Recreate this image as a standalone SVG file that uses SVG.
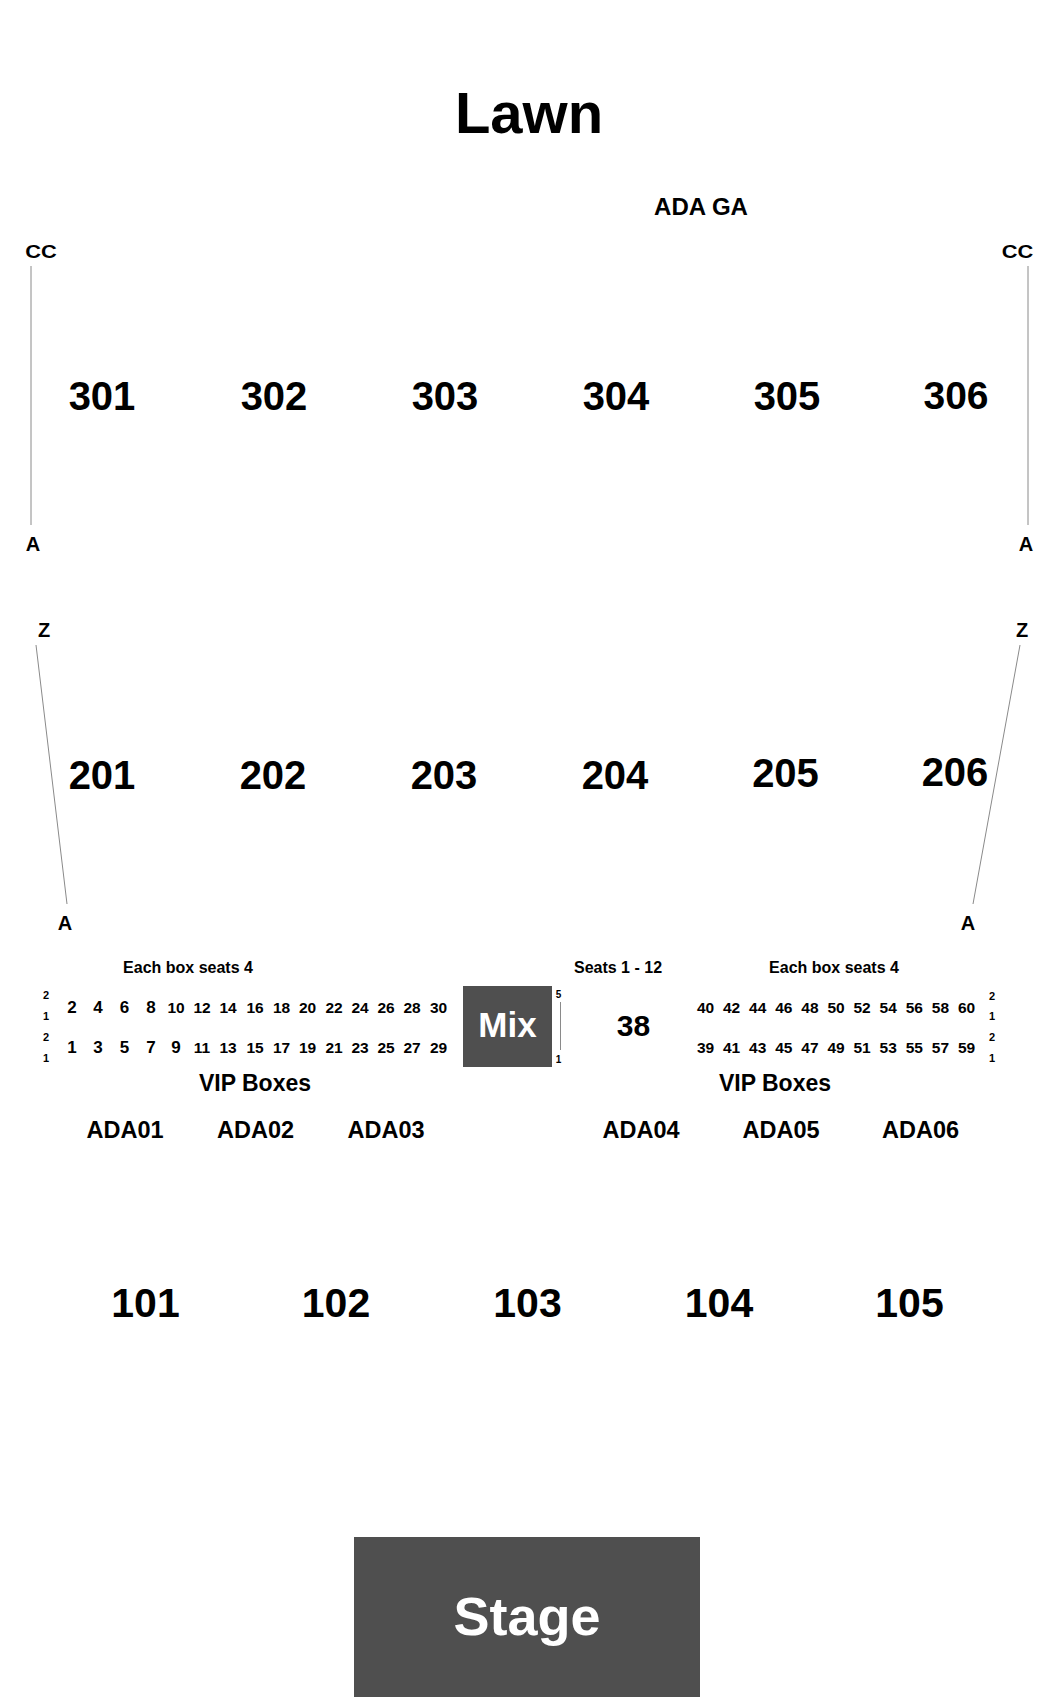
<svg xmlns="http://www.w3.org/2000/svg" width="1050" height="1700" viewBox="0 0 1050 1700">
<style>
text{font-family:"Liberation Sans",Arial,sans-serif;font-weight:bold;fill:#000;text-anchor:middle}
.sec{font-size:40px}
.sec1{font-size:41px}
.row{font-size:20px}
.cc{font-size:19px}
.ada{font-size:23.5px}
.note{font-size:16px}
.box{font-size:15.5px}
.boxs{font-size:17px}
.tiny{font-size:11px}
.vip{font-size:23px}
.wt{fill:#fff}
.blk{fill:#4f4f4f}
.ln{stroke:#8a8a8a;stroke-width:1;fill:none}
</style>
<rect width="1050" height="1700" fill="#fff"/>
<g id="connectors">
<line class="ln" x1="31" y1="266" x2="31" y2="525"/>
<line class="ln" x1="1028" y1="266" x2="1028" y2="525"/>
<line class="ln" x1="36" y1="645" x2="67" y2="904"/>
<line class="ln" x1="1020" y1="645" x2="973" y2="904"/>
<line class="ln" x1="560.5" y1="1002" x2="560.5" y2="1050"/>
</g>
<g id="lawn"><text x="529" y="133" style="font-size:58px">Lawn</text></g>
<g id="ada-ga"><text x="701" y="215" style="font-size:24px">ADA GA</text></g>
<g id="row-labels" class="row">
<g transform="translate(41 258) scale(1.15 1)"><text class="cc" x="0" y="0">CC</text></g>
<g transform="translate(1017.5 258) scale(1.15 1)"><text class="cc" x="0" y="0">CC</text></g>
<text x="33" y="551">A</text>
<text x="1026" y="551">A</text>
<text x="44" y="637">Z</text>
<text x="1022" y="637">Z</text>
<text x="65" y="930">A</text>
<text x="968" y="930">A</text>
</g>
<g id="sec-301"><text class="sec" x="102" y="410">301</text></g>
<g id="sec-302"><text class="sec" x="274" y="410">302</text></g>
<g id="sec-303"><text class="sec" x="445" y="410">303</text></g>
<g id="sec-304"><text class="sec" x="616" y="410">304</text></g>
<g id="sec-305"><text class="sec" x="787" y="410">305</text></g>
<g id="sec-306"><text class="sec" x="956" y="409" style="font-size:39px">306</text></g>
<g id="sec-201"><text class="sec" x="102" y="789">201</text></g>
<g id="sec-202"><text class="sec" x="273" y="789">202</text></g>
<g id="sec-203"><text class="sec" x="444" y="789">203</text></g>
<g id="sec-204"><text class="sec" x="615" y="789">204</text></g>
<g id="sec-205"><text class="sec" x="785.5" y="787">205</text></g>
<g id="sec-206"><text class="sec" x="955" y="786">206</text></g>
<g id="vip-left">
<text class="note" x="188" y="973">Each box seats 4</text>
<g class="tiny"><text x="46" y="999">2</text><text x="46" y="1020">1</text><text x="46" y="1041">2</text><text x="46" y="1062">1</text></g>
<g class="boxs"><text x="72" y="1013">2</text><text x="98" y="1013">4</text><text x="124.5" y="1013">6</text><text x="151" y="1013">8</text>
<text x="72" y="1053">1</text><text x="98" y="1053">3</text><text x="124.5" y="1053">5</text><text x="151" y="1053">7</text><text x="176" y="1053">9</text></g>
<g class="box"><text x="176" y="1013">10</text><text x="202" y="1013">12</text><text x="228" y="1013">14</text><text x="255" y="1013">16</text><text x="281.5" y="1013">18</text><text x="307.5" y="1013">20</text><text x="334" y="1013">22</text><text x="360" y="1013">24</text><text x="386" y="1013">26</text><text x="412" y="1013">28</text><text x="438.5" y="1013">30</text>
<text x="202" y="1053">11</text><text x="228" y="1053">13</text><text x="255" y="1053">15</text><text x="281.5" y="1053">17</text><text x="307.5" y="1053">19</text><text x="334" y="1053">21</text><text x="360" y="1053">23</text><text x="386" y="1053">25</text><text x="412" y="1053">27</text><text x="438.5" y="1053">29</text></g>
<text class="vip" x="255" y="1091">VIP Boxes</text>
</g>
<g id="mix">
<rect class="blk" x="463" y="986" width="89" height="81"/>
<text class="wt" x="507.5" y="1037" style="font-size:35px">Mix</text>
</g>
<g id="sec-38">
<text class="tiny" x="558.5" y="998" style="font-size:10px">5</text>
<text class="tiny" x="558.5" y="1063" style="font-size:10px">1</text>
<text class="note" x="618" y="973">Seats 1 - 12</text>
<text x="633.5" y="1036" style="font-size:30px">38</text>
</g>
<g id="vip-right">
<text class="note" x="834" y="973">Each box seats 4</text>
<g class="box"><text x="705.5" y="1013">40</text><text x="731.6" y="1013">42</text><text x="757.7" y="1013">44</text><text x="783.8" y="1013">46</text><text x="809.9" y="1013">48</text><text x="836" y="1013">50</text><text x="862.1" y="1013">52</text><text x="888.2" y="1013">54</text><text x="914.3" y="1013">56</text><text x="940.4" y="1013">58</text><text x="966.5" y="1013">60</text>
<text x="705.5" y="1053">39</text><text x="731.6" y="1053">41</text><text x="757.7" y="1053">43</text><text x="783.8" y="1053">45</text><text x="809.9" y="1053">47</text><text x="836" y="1053">49</text><text x="862.1" y="1053">51</text><text x="888.2" y="1053">53</text><text x="914.3" y="1053">55</text><text x="940.4" y="1053">57</text><text x="966.5" y="1053">59</text></g>
<g class="tiny"><text x="992" y="1000">2</text><text x="992" y="1020">1</text><text x="992" y="1041">2</text><text x="992" y="1062">1</text></g>
<text class="vip" x="775" y="1091">VIP Boxes</text>
</g>
<g id="ada01"><text class="ada" x="125" y="1138">ADA01</text></g>
<g id="ada02"><text class="ada" x="255.5" y="1138">ADA02</text></g>
<g id="ada03"><text class="ada" x="386" y="1138">ADA03</text></g>
<g id="ada04"><text class="ada" x="641" y="1138">ADA04</text></g>
<g id="ada05"><text class="ada" x="781" y="1138">ADA05</text></g>
<g id="ada06"><text class="ada" x="920.5" y="1138">ADA06</text></g>
<g id="sec-101"><text class="sec1" x="145.5" y="1317">101</text></g>
<g id="sec-102"><text class="sec1" x="336" y="1317">102</text></g>
<g id="sec-103"><text class="sec1" x="527.5" y="1317">103</text></g>
<g id="sec-104"><text class="sec1" x="719" y="1317">104</text></g>
<g id="sec-105"><text class="sec1" x="909.5" y="1317">105</text></g>
<g id="stage">
<rect class="blk" x="354" y="1537" width="346" height="160"/>
<text class="wt" x="527" y="1635" style="font-size:54px">Stage</text>
</g>
</svg>
